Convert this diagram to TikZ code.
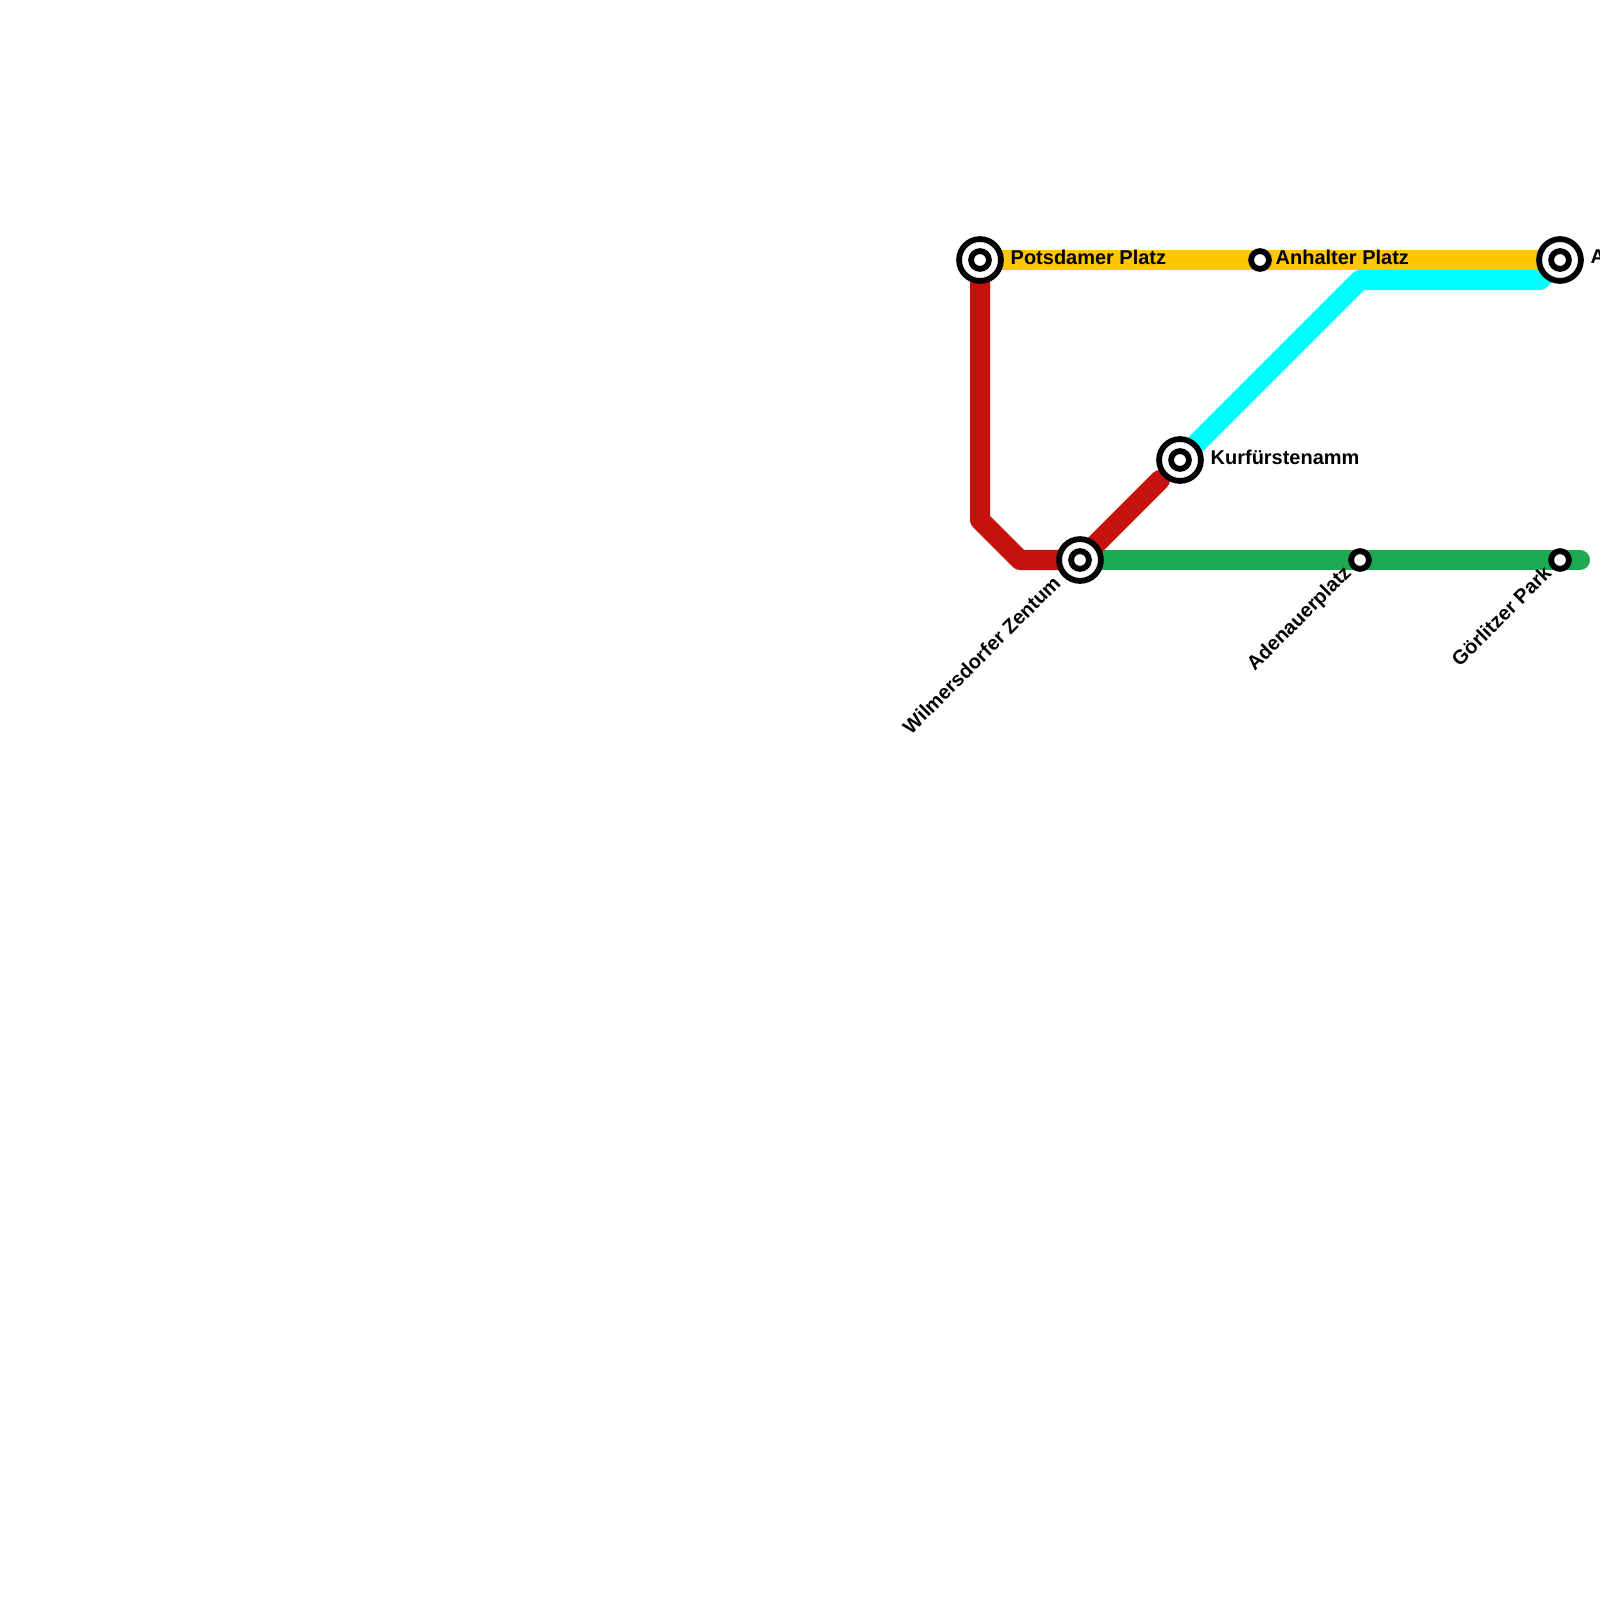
\documentclass[tikz,border=0pt]{standalone}
\usepackage{fontspec}
\setmainfont{Liberation Sans}
\usetikzlibrary{calc,backgrounds}
\definecolor{amarillo}{HTML}{FFC700}
\definecolor{rojo}{HTML}{C5120E}
\definecolor{verde}{HTML}{1CAA52}
\definecolor{cian}{HTML}{00FFFF}
\tikzset{
  route/.style={line width=2mm,line cap=round,line join=round},
  hubring/.style={circle,draw=black,fill=white,line width=.58mm,inner sep=0pt,minimum size=1.78mm},
  hub/.style={hubring,minimum size=4.18mm,label={[hubring]center:}},
  halt/.style={hubring,minimum size=1.78mm},
  stop/.style={font=\fontsize{5.68}{6}\selectfont\bfseries,inner sep=0pt,text=black},
  stopdiag/.style={stop,anchor=east,rotate=45}
}
\begin{document}
\begin{tikzpicture}[x=0.01cm,y=-0.01cm]
        \useasboundingbox (0,0) rectangle (1600,1600);
        \node[hub] (potsdamer) at (980,260) {};
        \node[halt] (anhalter) at (1260,260) {};
        \node[hub] (ostbahnhof) at (1560,260) {};
        \node[hub] (kurfuersten) at (1180,460) {};
        \node[hub] (wilmersdorf) at (1080,560) {};
        \node[halt] (adenauer) at (1360,560) {};
        \node[halt] (goerlitz) at (1560,560) {};
        \coordinate (greenend) at (1580,560);
        \coordinate (redend) at (1160,480);
        \begin{scope}[on background layer]
          \draw[route,verde] (wilmersdorf.center) -- (adenauer.center) -- (goerlitz.center) -- (greenend);
          \draw[route,cian] (kurfuersten.center) -- (1360,280) -- (1540,280) -- (ostbahnhof.center);
          \draw[route,rojo] (potsdamer.center) -- (980,520) -- (1020,560) -- (wilmersdorf.center) -- (redend);
          \draw[route,amarillo] (potsdamer.center) -- (anhalter.center) -- (ostbahnhof.center);
        \end{scope}
        \node[stop,anchor=west] (potsdamertxt) at ($(potsdamer)+(30,-3)$) {Potsdamer Platz};
        \node[stop,anchor=west] (anhaltertxt) at ($(anhalter)+(15,-3)$) {Anhalter Platz};
        \node[stop,anchor=west] (ostbahnhoftxt) at ($(ostbahnhof)+(30,-3)$) {A};
        \node[stop,anchor=west] (kurfuerstentxt) at ($(kurfuersten)+(30,-3)$) {Kurfürstenamm};
        \node[stopdiag] (wilmersdorftxt) at ($(wilmersdorf)+(-23,19)$) {Wilmersdorfer Zentum};
        \node[stopdiag] (adenauertxt) at ($(adenauer)+(-11,10)$) {Adenauerplatz};
        \node[stopdiag] (goerlitztxt) at ($(goerlitz)+(-12,9)$) {Görlitzer Park};
      \end{tikzpicture}
\end{document}
